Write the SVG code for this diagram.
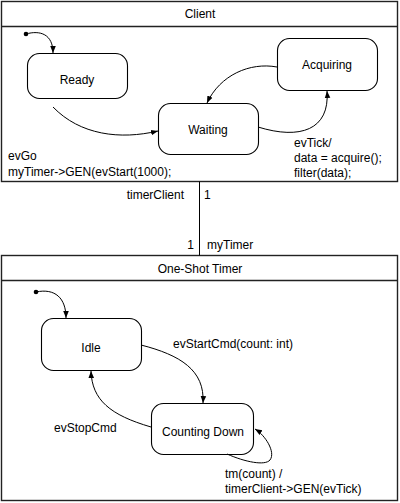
<svg xmlns="http://www.w3.org/2000/svg" width="400" height="503" viewBox="0 0 400 503">
<style>
.box{fill:#fff;stroke:#222;stroke-width:1.4}
.st{fill:#fff;stroke:#000;stroke-width:1.1}
.ln{fill:none;stroke:#000;stroke-width:1}
text{font-family:"Liberation Sans",Arial,sans-serif;font-size:12px;fill:#000}
.c{text-anchor:middle}
.r{text-anchor:end}
</style>
<defs>
<marker id="ah" viewBox="0 0 10 10" refX="10" refY="5" markerWidth="7" markerHeight="7" orient="auto" markerUnits="userSpaceOnUse">
<path d="M0,1 L10,5 L0,9 z" fill="#000"/>
</marker>
</defs>
<rect width="400" height="503" fill="#fff"/>
<g id="client">
<rect class="box" x="1.5" y="1.5" width="396" height="180"/>
<line class="box" x1="1.5" y1="26.5" x2="397.5" y2="26.5"/>
<text class="c" x="200" y="18">Client</text>
</g>
<g id="ready">
<rect class="st" x="27.5" y="53.5" width="100" height="45" rx="12"/>
<text class="c" x="77" y="84">Ready</text>
</g>
<g id="waiting">
<rect class="st" x="158.5" y="103.5" width="100" height="51" rx="12"/>
<text class="c" x="208" y="134">Waiting</text>
</g>
<g id="acquiring">
<rect class="st" x="277.5" y="38.5" width="100" height="52" rx="12"/>
<text class="c" x="327" y="69">Acquiring</text>
</g>
<g id="timer">
<rect class="box" x="1.5" y="255.5" width="396" height="245"/>
<line class="box" x1="1.5" y1="280.5" x2="397.5" y2="280.5"/>
<text class="c" x="200" y="273">One-Shot Timer</text>
</g>
<g id="idle">
<rect class="st" x="41.5" y="318.5" width="100" height="52" rx="12"/>
<text class="c" x="91" y="352">Idle</text>
</g>
<g id="counting">
<rect class="st" x="151.5" y="403.5" width="102" height="51" rx="12"/>
<text class="c" x="203" y="436">Counting Down</text>
</g>
<g id="init1"><circle cx="26" cy="34" r="2.3" fill="#000"/></g>
<g id="init2"><circle cx="36" cy="292" r="2.3" fill="#000"/></g>
<g id="connectors">
<path class="ln" d="M26,34 C40,30 53,34 53,53" marker-end="url(#ah)"/>
<path class="ln" d="M53,107 C80,135 120,140 158,131" marker-end="url(#ah)"/>
<path class="ln" d="M277,67 C250,62 220,75 207,103" marker-end="url(#ah)"/>
<path class="ln" d="M258,127 C300,140 330,130 327,91" marker-end="url(#ah)"/>
<line class="ln" x1="199.5" y1="181.5" x2="199.5" y2="255.5"/>
<path class="ln" d="M36,292 C55,288 66,298 66,318" marker-end="url(#ah)"/>
<path class="ln" d="M141,345 C180,355 205,370 203,403" marker-end="url(#ah)"/>
<path class="ln" d="M151,427 C110,415 92,400 91,371" marker-end="url(#ah)"/>
<path class="ln" d="M227,454 C245,462 265,466 270,460 C276,452 265,435 255,429" marker-end="url(#ah)"/>
</g>
<g id="labels">
<text x="8" y="160">evGo</text>
<text x="8" y="176">myTimer-&gt;GEN(evStart(1000);</text>
<text x="294" y="147">evTick/</text>
<text x="294" y="162">data = acquire();</text>
<text x="294" y="177">filter(data);</text>
<text class="r" x="184" y="199">timerClient</text>
<text x="204" y="199">1</text>
<text class="r" x="194" y="249">1</text>
<text x="207" y="249">myTimer</text>
<text x="173" y="348">evStartCmd(count: int)</text>
<text x="54" y="432">evStopCmd</text>
<text x="225" y="478">tm(count) /</text>
<text x="225" y="493">timerClient-&gt;GEN(evTick)</text>
</g>
</svg>
